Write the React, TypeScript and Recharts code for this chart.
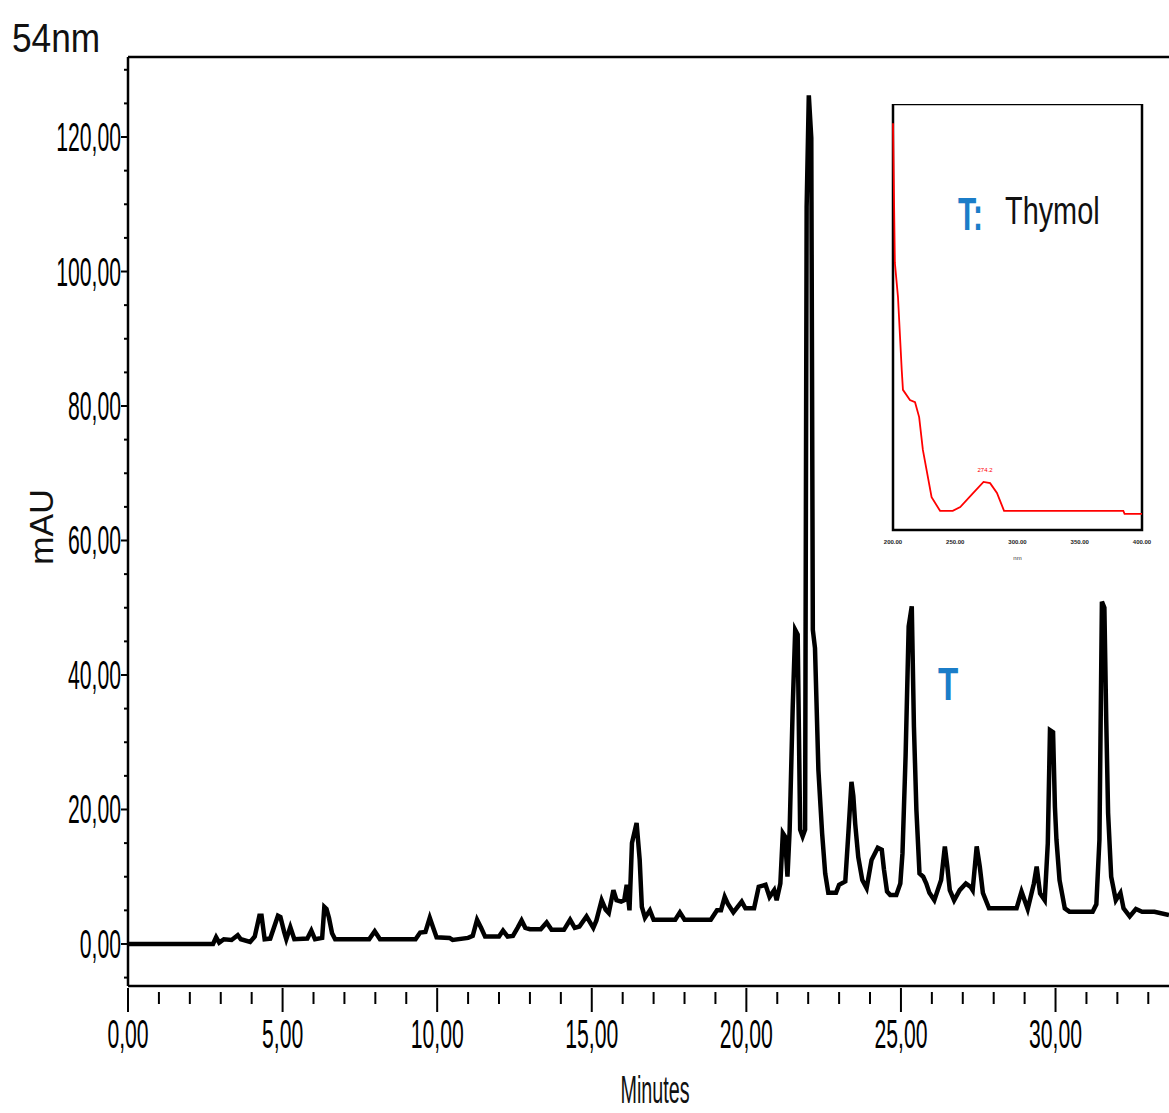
import React from "react";
import { LineChart, Line, XAxis, YAxis, ReferenceLine, ReferenceArea } from "recharts";

// ---- Chromatogram (254 nm) ----
const TIME_MIN = [
  0, 1, 2, 2.75, 2.85, 2.95, 3.1, 3.35, 3.55, 3.65, 3.95, 4.1, 4.25, 4.32, 4.42, 4.6, 4.85, 4.93, 5.05, 5.12,
  5.25, 5.38, 5.8, 5.93, 6.05, 6.28, 6.35, 6.42, 6.5, 6.6, 6.7, 7.8, 7.98, 8.15, 9.3, 9.45, 9.62, 9.76, 9.88, 9.98,
  10.4, 10.5, 11.0, 11.15, 11.29, 11.42, 11.55, 12.0, 12.13, 12.28, 12.45, 12.6, 12.73, 12.85, 13.0, 13.35, 13.54, 13.7, 14.1, 14.3,
  14.45, 14.6, 14.83, 15.05, 15.15, 15.32, 15.45, 15.55, 15.7, 15.8, 15.95, 16.05, 16.13, 16.22, 16.3, 16.45, 16.55, 16.62, 16.72, 16.88,
  17.0, 17.7, 17.85, 18.0, 18.85, 19.05, 19.18, 19.3, 19.4, 19.58, 19.85, 19.97, 20.25, 20.4, 20.62, 20.75, 20.9, 20.98, 21.1, 21.18,
  21.25, 21.33, 21.4, 21.5, 21.58, 21.66, 21.74, 21.82, 21.9, 21.95, 22.02, 22.1, 22.15, 22.22, 22.33, 22.4, 22.45, 22.55, 22.65, 22.9,
  23.0, 23.2, 23.3, 23.4, 23.46, 23.52, 23.62, 23.75, 23.89, 24.05, 24.25, 24.38, 24.45, 24.55, 24.65, 24.85, 24.98, 25.05, 25.15, 25.25,
  25.35, 25.42, 25.5, 25.6, 25.72, 25.82, 25.92, 26.08, 26.3, 26.42, 26.5, 26.58, 26.72, 26.9, 27.1, 27.25, 27.32, 27.45, 27.55, 27.65,
  27.85, 28.74, 28.9, 29.1, 29.3, 29.39, 29.5, 29.65, 29.75, 29.82, 29.92, 29.98, 30.03, 30.13, 30.3, 30.45, 31.2, 31.32, 31.42, 31.5,
  31.58, 31.64, 31.7, 31.8, 31.95, 32.1, 32.2, 32.4, 32.6, 32.8, 33.2, 33.67,
];
const ABS_MAU = [
  0, 0, 0, 0, 1.0, 0.2, 0.7, 0.6, 1.3, 0.7, 0.3, 1.1, 4.2, 4.2, 0.7, 0.8, 4.2, 4.0, 1.8, 0.7,
  2.5, 0.7, 0.8, 2.0, 0.7, 0.9, 5.5, 5.2, 3.9, 1.6, 0.7, 0.7, 1.9, 0.7, 0.7, 1.7, 1.8, 3.9, 2.3, 1.0,
  0.9, 0.6, 0.9, 1.2, 3.6, 2.4, 1.1, 1.1, 2.0, 1.1, 1.2, 2.4, 3.5, 2.4, 2.2, 2.2, 3.2, 2.1, 2.1, 3.6,
  2.4, 2.6, 4.1, 2.4, 3.5, 6.5, 5.1, 4.6, 8.0, 6.5, 6.3, 6.5, 8.8, 5.0, 15.0, 18.0, 12.5, 5.5, 3.9, 5.0,
  3.6, 3.6, 4.7, 3.6, 3.6, 5.0, 5.0, 7.0, 6.0, 4.7, 6.3, 5.3, 5.3, 8.5, 8.8, 7.0, 8.0, 6.5, 9.0, 16.5,
  16.0, 10.0, 16.9, 35.3, 46.7, 46.0, 17.0, 16.0, 17.0, 109.6, 126.2, 119.9, 46.7, 44.0, 25.9, 20.4, 16.5, 10.5, 7.6, 7.6,
  8.8, 9.3, 16.5, 24.1, 22.0, 17.9, 12.9, 9.5, 8.3, 12.5, 14.3, 14.0, 11.1, 7.8, 7.3, 7.3, 9.0, 13.5, 27.9, 47.2,
  50.2, 32.3, 19.9, 10.5, 10.0, 9.0, 7.6, 6.5, 9.5, 14.5, 11.5, 8.0, 6.5, 8.0, 9.0, 8.5, 8.0, 14.5, 11.5, 7.6,
  5.3, 5.3, 7.8, 5.2, 9.0, 11.5, 7.5, 6.5, 15.0, 31.8, 31.5, 20.4, 15.5, 9.5, 5.3, 4.8, 4.8, 5.9, 15.5, 50.9,
  50.0, 33.3, 19.5, 10.0, 6.5, 7.6, 5.3, 4.1, 5.2, 4.8, 4.8, 4.3,
];
const X_TICKS = Array.from({ length: 34 }, (_, i) => i); // 0..33 minutes, labels every 5
const Y_TICKS = Array.from({ length: 28 }, (_, i) => -5 + i * 5); // -5..130, labels every 20

// ---- Inset UV spectrum of thymol ----
const SPEC_NM = [200, 201.5, 204, 207, 208, 213.6, 217.7, 221, 224, 231, 237.8, 248, 254, 264.5, 272.7, 278, 283.5, 289.2, 385, 386, 400];
const SPEC_ABS = [95.5, 62.7, 54.7, 37.6, 32.9, 30.5, 30, 26.5, 18.8, 7.7, 4.5, 4.5, 5.4, 8.7, 11.3, 11, 8.7, 4.5, 4.5, 3.8, 3.8];
const SPEC_TICKS = [200, 250, 300, 350, 400];
const SPEC_TICK_LABELS = ["200.00", "250.00", "300.00", "350.00", "400.00"];

const chromData = TIME_MIN.map((t, i) => ({ t, v: ABS_MAU[i] }));
const specData = SPEC_NM.map((nm, i) => ({ nm, a: SPEC_ABS[i] }));

const FONT = "'Liberation Sans', Arial, sans-serif";
const fmt = (v: number) => v.toFixed(2).replace(".", ",");
const BLUE = "#1b7dc8";

const YTick = (props: any) => {
  const { x, y, payload } = props;
  const v = payload.value;
  const major = Math.abs(v % 20) < 1e-6;
  return (
    <g>
      <line x1={x - (major ? 7 : 4)} x2={x} y1={y} y2={y} stroke="#000" strokeWidth={2} />
      {major && (
        <text transform={`translate(${x - 7},${y + 14}) scale(0.53,1)`} textAnchor="end" fontSize={40} fontFamily={FONT} fill="#000">
          {fmt(v)}
        </text>
      )}
    </g>
  );
};

const XTick = (props: any) => {
  const { x, y, payload } = props;
  const v = payload.value;
  const major = v % 5 === 0;
  return (
    <g>
      <line x1={x} x2={x} y1={y + (major ? 2 : 6)} y2={y + (major ? 26 : 18)} stroke="#000" strokeWidth={2} />
      {major && (
        <text transform={`translate(${x},${y + 62}) scale(0.53,1)`} textAnchor="middle" fontSize={40} fontFamily={FONT} fill="#000">
          {fmt(v)}
        </text>
      )}
    </g>
  );
};

const SpecTick = (props: any) => {
  const { x, y, payload, index } = props;
  return (
    <text x={x} y={y + 14} textAnchor="middle" fontSize={6} fontWeight="bold" fontFamily={FONT} fill="#222">
      {SPEC_TICK_LABELS[index] ?? payload.value}
    </text>
  );
};

export default function App() {
  return (
    <div style={{ position: "absolute", left: 0, top: 0, width: 1169, height: 1113, background: "#fff", overflow: "hidden" }}>
      <div style={{ position: "absolute", left: 0, top: 0 }}>
        <LineChart width={1169} height={1113} data={chromData} margin={{ top: 57, right: 0, bottom: 67, left: 28 }}>
          <XAxis
            dataKey="t"
            type="number"
            domain={[0, 33.67]}
            ticks={X_TICKS}
            interval={0}
            allowDataOverflow
            tickSize={0}
            tickMargin={0}
            tickLine={false}
            tick={<XTick />}
            height={60}
            axisLine={{ stroke: "#000", strokeWidth: 2.5 }}
          />
          <YAxis
            type="number"
            domain={[-6.25, 131.9]}
            ticks={Y_TICKS}
            interval={0}
            allowDataOverflow
            tickSize={0}
            tickMargin={0}
            tickLine={false}
            tick={<YTick />}
            width={100}
            axisLine={{ stroke: "#000", strokeWidth: 2.5 }}
          />
          <ReferenceLine y={131.9} stroke="#000" strokeWidth={2.5} ifOverflow="extendDomain" />
          <Line
            dataKey="v"
            type="linear"
            stroke="#000"
            strokeWidth={4.5}
            dot={false}
            isAnimationActive={false}
            strokeLinejoin="miter"
          />
        </LineChart>
      </div>

      <div style={{ position: "absolute", left: 873, top: 104 }}>
        <LineChart width={289} height={470} data={specData} margin={{ top: 0, right: 20, bottom: 0, left: 20 }}>
          <XAxis
            dataKey="nm"
            type="number"
            domain={[200, 400]}
            ticks={SPEC_TICKS}
            interval={0}
            tickSize={0}
            tickMargin={0}
            tickLine={false}
            tick={<SpecTick />}
            axisLine={false}
            height={44}
            label={{ value: "nm", position: "insideBottom", offset: 14, fontSize: 6, fontFamily: FONT, fill: "#333" } as any}
          />
          <YAxis type="number" domain={[0, 100]} hide />
          <ReferenceArea x1={200} x2={400} y1={0} y2={100} fill="#fff" fillOpacity={1} stroke="#000" strokeWidth={2.5} ifOverflow="visible" />
          <Line dataKey="a" type="linear" stroke="#ff0000" strokeWidth={1.8} dot={false} isAnimationActive={false} />
        </LineChart>
      </div>

      <svg width={1169} height={1113} style={{ position: "absolute", left: 0, top: 0, pointerEvents: "none" }}>
        <text transform="translate(12,52) scale(0.86,1)" fontSize={41} fontFamily={FONT} fill="#111">54nm</text>
        <text transform="translate(53,527) rotate(-90)" textAnchor="middle" fontSize={34} fontFamily={FONT} fill="#111">mAU</text>
        <text transform="translate(655,1103) scale(0.52,1)" textAnchor="middle" fontSize={38} fontFamily={FONT} fill="#111">Minutes</text>
        <text transform="translate(948,700) scale(0.72,1)" textAnchor="middle" fontSize={46} fontWeight="bold" fontFamily={FONT} fill={BLUE}>T</text>
        <text transform="translate(958,230) scale(0.65,1)" fontSize={46} fontWeight="bold" fontFamily={FONT} fill={BLUE}>T:</text>
        <text transform="translate(1005,224) scale(0.76,1)" fontSize={38} fontFamily={FONT} fill="#111">Thymol</text>
        <text x={985} y={472} textAnchor="middle" fontSize={6} fontFamily={FONT} fill="#ff0000">274.2</text>
      </svg>
    </div>
  );
}
